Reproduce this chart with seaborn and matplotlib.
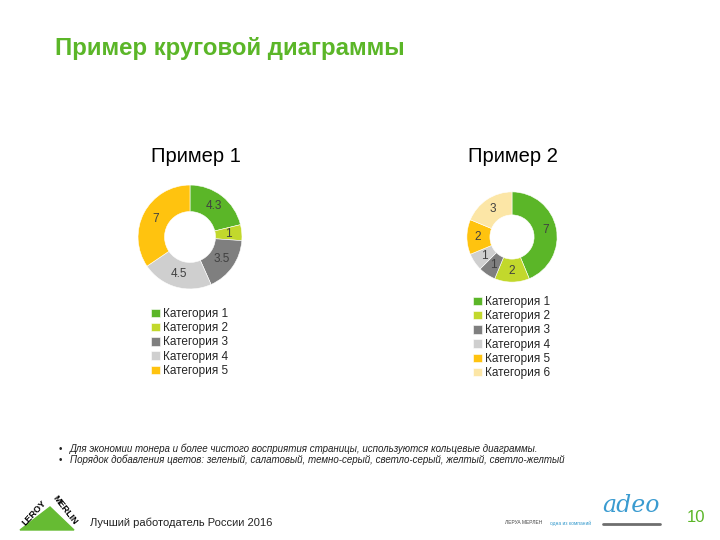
import numpy as np
import pandas as pd
import matplotlib
matplotlib.use("Agg")
import matplotlib.pyplot as plt
import seaborn as sns
from matplotlib.patches import Polygon

# данные
titles = ["Пример 1", "Пример 2"]
cats1 = ["Категория 1", "Категория 2", "Категория 3", "Категория 4", "Категория 5"]
vals1 = [4.3, 1, 3.5, 4.5, 7]
cats2 = ["Категория 1", "Категория 2", "Категория 3", "Категория 4", "Категория 5", "Категория 6"]
vals2 = [7, 2, 1, 1, 2, 3]
colors = ["#5BB628", "#C2D82C", "#7F7F7F", "#CFCFCF", "#FFC30F", "#FCE6A6"]

notes = [
    "Для экономии тонера и более чистого восприятия страницы, используются кольцевые диаграммы.",
    "Порядок добавления цветов: зеленый, салатовый, темно-серый, светло-серый, желтый, светло-желтый",
]

sns.set_theme(style="white")
plt.rcParams["font.family"] = ["Liberation Sans", "DejaVu Sans"]

fig = plt.figure(figsize=(7.2, 5.4), dpi=100)

# фон / оформление в пикселях
bg = fig.add_axes([0, 0, 1, 1])
bg.set_xlim(0, 720)
bg.set_ylim(540, 0)
bg.axis("off")

bg.text(55, 48, "Пример круговой диаграммы", color="#5BB628", fontsize=17.3,
        fontweight="bold", va="center", ha="left")


def donut(rect, vals, cats, title, leg_xy):
    ax = fig.add_axes(rect)
    total = sum(vals)
    wedges, _, autotexts = ax.pie(
        vals, colors=colors[:len(vals)], startangle=90, counterclock=False,
        radius=1, wedgeprops=dict(width=0.51, edgecolor="white", linewidth=0.4),
        autopct=lambda p: f"{p * total / 100:.2g}", pctdistance=0.75,
        textprops=dict(color="#404040", fontsize=8.5))
    ax.set_xlim(-1.02, 1.02)
    ax.set_ylim(-1.02, 1.02)
    ax.set_aspect("equal")
    ax.axis("off")
    ax.legend(wedges, cats, loc="upper left", bbox_to_anchor=leg_xy,
              bbox_transform=fig.transFigure, frameon=False, fontsize=8.5,
              handlelength=0.75, handleheight=0.75, handletextpad=0.3,
              labelspacing=0.19, borderpad=0, borderaxespad=0)
    return ax


donut([137 / 720, (540 - 290) / 540, 106 / 720, 106 / 540], vals1, cats1, titles[0],
      (151 / 720, 1 - 308 / 540))
donut([466 / 720, (540 - 283) / 540, 92 / 720, 92 / 540], vals2, cats2, titles[1],
      (473 / 720, 1 - 296 / 540))

bg.text(196, 156, titles[0], fontsize=14.5, ha="center", va="center", color="black")
bg.text(513, 156, titles[1], fontsize=14.5, ha="center", va="center", color="black")

for i, t in enumerate(notes):
    y = 449 + i * 11
    bg.text(59, y, "•", fontsize=7, va="center", color="#222222")
    bg.text(70, y, t, fontsize=7, style="italic", va="center", color="#222222")

# логотип
bg.add_patch(Polygon([(20, 530), (74, 530), (50, 507)], closed=True, color="#66BB33"))
bg.text(34, 513, "LEROY", rotation=47, fontsize=6.5, fontweight="bold", ha="center",
        va="center", color="black")
bg.text(65, 510, "MERLIN", rotation=-52, fontsize=6.5, fontweight="bold", ha="center",
        va="center", color="black")
bg.text(90, 523, "Лучший работодатель России 2016", fontsize=8, va="center", color="#222222")

bg.text(505, 523, "ЛЕРУА МЕРЛЕН", fontsize=3.5, va="center", color="#444444")
bg.text(550, 523, "одна из компаний", fontsize=3.5, va="center", color="#3399CC")
bg.text(631, 506, "adeo", fontsize=17, style="italic", family="DejaVu Serif",
        ha="center", va="center", color="#3A9BD0")
bg.plot([603, 660], [524, 524], color="#6E6E6E", lw=2)
bg.text(696, 517, "10", fontsize=12, ha="center", va="center", color="#5BB628")

fig.savefig("out.png", dpi=100)
